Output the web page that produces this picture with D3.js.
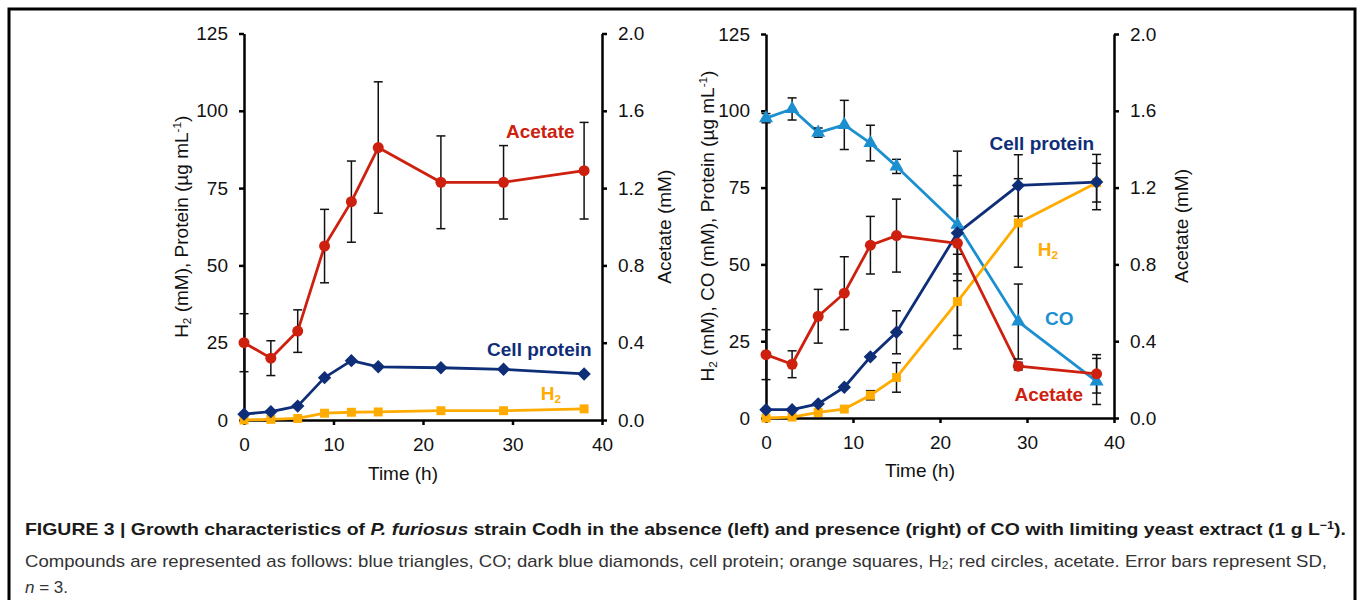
<!DOCTYPE html>
<html>
<head>
<meta charset="utf-8">
<script src="https://cdn.jsdelivr.net/npm/d3@7"></script>
<style>
body { margin:0; background:#fff; }
svg text { font-family:"Liberation Sans", Arial, sans-serif; }
</style>
</head>
<body>
<script>
var time = [0, 3, 6, 9, 12, 15, 22, 29, 38];

// left panel: no CO
var leftAcetate   = [0.40, 0.32, 0.46, 0.90, 1.13, 1.41, 1.23, 1.23, 1.29];
var leftAcetateSD = [0.15, 0.09, 0.11, 0.19, 0.21, 0.34, 0.24, 0.19, 0.25];
var leftProtein   = [1.9, 2.7, 4.5, 13.7, 19.2, 17.2, 16.9, 16.4, 14.9];
var leftH2        = [0.0, 0.2, 0.5, 2.2, 2.5, 2.6, 3.0, 3.0, 3.6];

// right panel: with CO
var rightCO          = [97.6, 100.6, 92.9, 95.4, 89.5, 81.9, 62.9, 31.4, 11.9];
var rightCOSD        = [1.5, 3.6, 1.5, 8.0, 5.8, 2.3, 16.0, 12.2, 7.5];
var rightProtein     = [2.7, 2.7, 4.6, 10.0, 19.9, 27.9, 60.2, 75.7, 76.8];
var rightProteinSD   = [0, 0, 0, 0, 0, 7.0, 15.5, 10.0, 9.0];
var rightH2          = [0.0, 0.3, 1.8, 2.9, 7.4, 13.2, 37.9, 63.5, 76.6];
var rightH2SD        = [0, 0, 0, 0, 1.5, 4.8, 15.4, 14.4, 6.3];
var rightAcetate     = [0.33, 0.28, 0.53, 0.65, 0.90, 0.95, 0.91, 0.27, 0.23];
var rightAcetateSD   = [0.13, 0.07, 0.14, 0.19, 0.15, 0.19, 0.48, 0.02, 0.10];

var xTicks   = [0, 10, 20, 30, 40];
var yTicks   = [0, 25, 50, 75, 100, 125];
var accTicks = [0, 0.4, 0.8, 1.2, 1.6, 2.0];

var red = "#cd200f", navy = "#0f2e78", orange = "#ffab00", blue = "#1b8fd0";

var svg = d3.select("body")
	.append("svg")
	.attr("width", 1358)
	.attr("height", 600);

svg.append("rect").attr("width", 1358).attr("height", 600).attr("fill", "#fff");

// open frame round the figure
svg.append("path")
	.attr("d", "M9,610V9H1355V610")
	.attr("fill", "none")
	.attr("stroke", "#000")
	.attr("stroke-width", 3);

var H2 = [{t:"H"}, {t:"2", sub:true}];

var panels = [
{ left:244, right:602, top:33.5, bottom:420,
  yTitle:[{t:"H"}, {t:"2", sub:true}, {t:" (mM), Protein (µg mL"}, {t:"-1", sup:true}, {t:")"}],
  yTitleX:181, yRTitleX:664, timeX:403, timeY:473,
  series:[
	{ v:leftH2, sd:null, side:"L", color:orange, shape:"square" },
	{ v:leftProtein, sd:null, side:"L", color:navy, shape:"diamond" },
	{ v:leftAcetate, sd:leftAcetateSD, side:"R", color:red, shape:"circle" }
  ],
  labels:[
	{ parts:[{t:"Acetate"}], color:red, x:33.1, y:93.2 },
	{ parts:[{t:"Cell protein"}], color:navy, x:33.0, y:23.0 },
	{ parts:H2, color:orange, x:34.3, y:8.7 }
  ] },
{ left:766, right:1114, top:34, bottom:418,
  yTitle:[{t:"H"}, {t:"2", sub:true}, {t:" (mM), CO (mM), Protein (µg mL"}, {t:"-1", sup:true}, {t:")"}],
  yTitleX:707, yRTitleX:1181, timeX:920, timeY:470,
  series:[
	{ v:rightCO, sd:rightCOSD, side:"L", color:blue, shape:"triangle" },
	{ v:rightH2, sd:rightH2SD, side:"L", color:orange, shape:"square" },
	{ v:rightProtein, sd:rightProteinSD, side:"L", color:navy, shape:"diamond" },
	{ v:rightAcetate, sd:rightAcetateSD, side:"R", color:red, shape:"circle" }
  ],
  labels:[
	{ parts:[{t:"Cell protein"}], color:navy, x:31.7, y:89.5 },
	{ parts:H2, color:orange, x:32.4, y:55 },
	{ parts:[{t:"CO"}], color:blue, x:33.7, y:32.5 },
	{ parts:[{t:"Acetate"}], color:red, x:32.5, y:7.8 }
  ] }
];

function rich(sel, parts, size){
	parts.forEach(function(p){
		var ts = sel.append("tspan").text(p.t);
		if (p.sub) ts.attr("font-size", size*0.62).attr("baseline-shift", "-22%");
		if (p.sup) ts.attr("font-size", size*0.62).attr("baseline-shift", "55%");
	});
}

var shapes = {
	circle:   d3.symbol().type(d3.symbolCircle).size(95),
	square:   d3.symbol().type(d3.symbolSquare).size(80),
	diamond:  d3.symbol().type(d3.symbolSquare).size(90),
	triangle: d3.symbol().type(d3.symbolTriangle).size(85)
};

function styleAxis(a){
	a.attr("font-size", 19).attr("font-family", null);
	a.select(".domain").attr("stroke-width", 2.5).attr("stroke", "#000");
	a.selectAll(".tick line").attr("stroke-width", 2.5).attr("stroke", "#000");
	a.selectAll(".tick text").attr("fill", "#111");
}

panels.forEach(function(p){
	var x = d3.scaleLinear().domain([0, 40]).range([p.left, p.right]);
	var y = d3.scaleLinear().domain([0, 125]).range([p.bottom, p.top]);
	var yR = d3.scaleLinear().domain([0, 2]).range([p.bottom, p.top]);

	var g = svg.append("g");

	styleAxis(g.append("g").attr("transform", "translate(0," + p.bottom + ")")
		.call(d3.axisBottom(x).tickValues(xTicks).tickSize(5).tickSizeOuter(0).tickPadding(13)));
	styleAxis(g.append("g").attr("transform", "translate(" + p.left + ",0)")
		.call(d3.axisLeft(y).tickValues(yTicks).tickSize(5).tickSizeOuter(0).tickPadding(11)));
	styleAxis(g.append("g").attr("transform", "translate(" + p.right + ",0)")
		.call(d3.axisRight(yR).tickValues(accTicks).tickFormat(d3.format(".1f")).tickSize(5).tickSizeOuter(0).tickPadding(11)));

	// axis titles
	g.append("text").attr("x", p.timeX).attr("y", p.timeY).attr("dy", "0.35em")
		.attr("text-anchor", "middle").attr("font-size", 19).attr("fill", "#111").text("Time (h)");
	var yt = g.append("text")
		.attr("transform", "translate(" + p.yTitleX + "," + (p.top + p.bottom)/2 + ") rotate(-90)")
		.attr("dy", "0.35em").attr("text-anchor", "middle").attr("font-size", 19).attr("fill", "#111");
	rich(yt, p.yTitle, 19);
	g.append("text")
		.attr("transform", "translate(" + p.yRTitleX + "," + (p.top + p.bottom)/2 + ") rotate(-90)")
		.attr("dy", "0.35em").attr("text-anchor", "middle").attr("font-size", 19).attr("fill", "#111")
		.text("Acetate (mM)");

	p.series.forEach(function(s){
		var ys = s.side == "R" ? yR : y;
		var pts = time.map(function(t, i){ return { t:t, v:s.v[i], e:s.sd ? s.sd[i] : 0 }; });
		s.pts = pts; s.ys = ys;
		g.append("path")
			.attr("fill", "none")
			.attr("stroke", s.color)
			.attr("stroke-width", 2.8)
			.attr("stroke-linejoin", "round")
			.attr("d", d3.line().x(function(d){ return x(d.t); }).y(function(d){ return ys(d.v); })(pts));
	});

	// error bars over lines, under markers
	p.series.forEach(function(s){
		var eb = g.append("g").attr("stroke", "#111").attr("stroke-width", 1.5)
			.selectAll().data(s.pts.filter(function(d){ return d.e > 0; }))
			.enter().append("g");
		eb.append("line")
			.attr("x1", function(d){ return x(d.t); }).attr("x2", function(d){ return x(d.t); })
			.attr("y1", function(d){ return s.ys(d.v - d.e); }).attr("y2", function(d){ return s.ys(d.v + d.e); });
		[-1, 1].forEach(function(k){
			eb.append("line")
				.attr("x1", function(d){ return x(d.t) - 4.5; }).attr("x2", function(d){ return x(d.t) + 4.5; })
				.attr("y1", function(d){ return s.ys(d.v + k*d.e); }).attr("y2", function(d){ return s.ys(d.v + k*d.e); });
		});
	});

	p.series.forEach(function(s){
		g.append("g").selectAll().data(s.pts)
			.enter().append("path")
			.attr("d", shapes[s.shape])
			.attr("fill", s.color)
			.attr("transform", function(d){
				return "translate(" + x(d.t) + "," + s.ys(d.v) + ")" + (s.shape == "diamond" ? " rotate(45)" : "");
			});
	});

	p.labels.forEach(function(l){
		var t = g.append("text").attr("x", x(l.x)).attr("y", y(l.y)).attr("dy", "0.35em")
			.attr("text-anchor", "middle").attr("font-size", 19).attr("font-weight", "bold")
			.attr("fill", l.color);
		rich(t, l.parts, 19);
	});
});

// caption
var cap = svg.append("g").attr("fill", "#1a1a1a");
var c1 = cap.append("text").attr("x", 25).attr("y", 535).attr("font-size", 17).attr("font-weight", "bold")
	.attr("textLength", 1321).attr("lengthAdjust", "spacingAndGlyphs");
c1.append("tspan").text("FIGURE 3 | Growth characteristics of ");
c1.append("tspan").attr("font-style", "italic").text("P. furiosus");
c1.append("tspan").text(" strain Codh in the absence (left) and presence (right) of CO with limiting yeast extract (1 g L");
c1.append("tspan").attr("font-size", 11).attr("baseline-shift", "55%").text("\u22121");
c1.append("tspan").text(").");

var c2 = cap.append("text").attr("x", 25).attr("y", 567).attr("font-size", 17).attr("fill", "#333")
	.attr("textLength", 1302).attr("lengthAdjust", "spacingAndGlyphs");
c2.append("tspan").text("Compounds are represented as follows: blue triangles, CO; dark blue diamonds, cell protein; orange squares, H");
c2.append("tspan").attr("font-size", 11).attr("baseline-shift", "-22%").text("2");
c2.append("tspan").text("; red circles, acetate. Error bars represent SD,");

var c3 = cap.append("text").attr("x", 25).attr("y", 593).attr("font-size", 17).attr("fill", "#333");
c3.append("tspan").attr("font-style", "italic").text("n");
c3.append("tspan").text(" = 3.");
</script>
</body>
</html>
